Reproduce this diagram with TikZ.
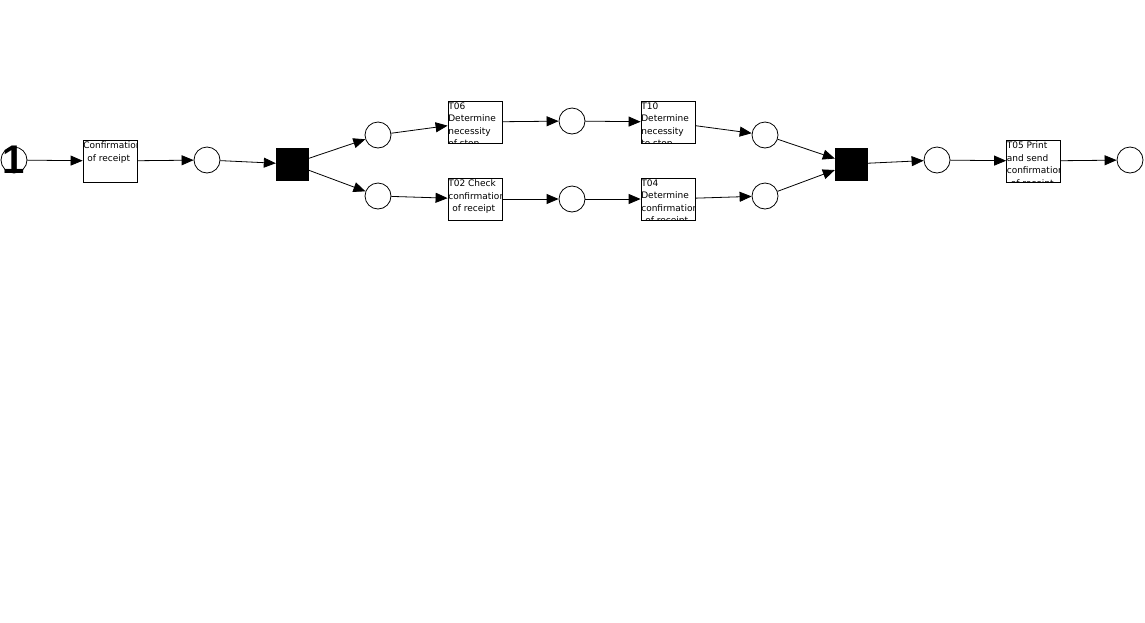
\documentclass[tikz,border=0pt]{standalone}
\usepackage{fontspec}
\setmainfont{DejaVu Sans}
\newfontfamily\tokenfont{Liberation Sans}
\usetikzlibrary{arrows.meta}
\tikzset{
  place/.style={circle,draw,line width=0.8pt,minimum size=26pt,inner sep=0pt,fill=white},
  bar/.style={rectangle,fill=black,draw=black,minimum size=32pt,inner sep=0pt},
  task/.style={rectangle,draw,line width=0.8pt,minimum width=54pt,minimum height=42pt,inner sep=0pt},
  tasktext/.style={anchor=north west,inner sep=0pt,align=left,font=\fontsize{9}{12.5}\selectfont},
  token/.style={inner sep=0pt,font=\tokenfont\bfseries\fontsize{40}{40}\selectfont},
  arc/.style={line width=0.8pt,-{Triangle[length=12pt,width=10pt]}}
}
\newcommand\boxtext[2]{%
  \begin{scope}
    \clip (#1.north west) rectangle (#1.south east);
    \node[tasktext] (#1-txt) at ([shift={(0.5,2)}]#1.north west) {#2};
  \end{scope}}
\begin{document}
\begin{tikzpicture}[x=1pt,y=-1pt]
\useasboundingbox[fill=white] (0,0) rectangle (1145,622);
\node[place] (p0) at (14,160) {};
\node[token] (p0-tok) at ([yshift=0.5]p0.center) {1};
\node[task] (t1) at (110,161) {};
\node[place] (p1) at (207,160) {};
\node[bar] (s1) at (292,164) {};
\node[place] (p2) at (378,135) {};
\node[place] (p3) at (378,196) {};
\node[task] (t06) at (475,122) {};
\node[place] (p4) at (572,121) {};
\node[task] (t10) at (668,122) {};
\node[place] (p5) at (765,135) {};
\node[task] (t02) at (475,199) {};
\node[place] (p6) at (572,199) {};
\node[task] (t04) at (668,199) {};
\node[place] (p7) at (765,196) {};
\node[bar] (s2) at (851,164) {};
\node[place] (p8) at (937,160) {};
\node[task] (t05) at (1033.5,161) {};
\node[place] (p9) at (1130,160) {};
\boxtext{t1}{Confirmation\\\hspace*{4pt}of receipt}
\boxtext{t06}{T06\\Determine\\necessity\\of stop}
\boxtext{t10}{T10\\Determine\\necessity\\to stop}
\boxtext{t02}{T02 Check\\confirmation\\\hspace*{4pt}of receipt}
\boxtext{t04}{T04\\Determine\\confirmation\\\hspace*{4pt}of receipt}
\boxtext{t05}{T05 Print\\and send\\confirmation\\\hspace*{4pt}of receipt}
\draw[arc] (p0) -- (t1);
\draw[arc] (t1) -- (p1);
\draw[arc] (p1) -- (s1);
\draw[arc] (s1) -- (p2);
\draw[arc] (s1) -- (p3);
\draw[arc] (p2) -- (t06);
\draw[arc] (t06) -- (p4);
\draw[arc] (p4) -- (t10);
\draw[arc] (t10) -- (p5);
\draw[arc] (p5) -- (s2);
\draw[arc] (p3) -- (t02);
\draw[arc] (t02) -- (p6);
\draw[arc] (p6) -- (t04);
\draw[arc] (t04) -- (p7);
\draw[arc] (p7) -- (s2);
\draw[arc] (s2) -- (p8);
\draw[arc] (p8) -- (t05);
\draw[arc] (t05) -- (p9);
\end{tikzpicture}
\end{document}
